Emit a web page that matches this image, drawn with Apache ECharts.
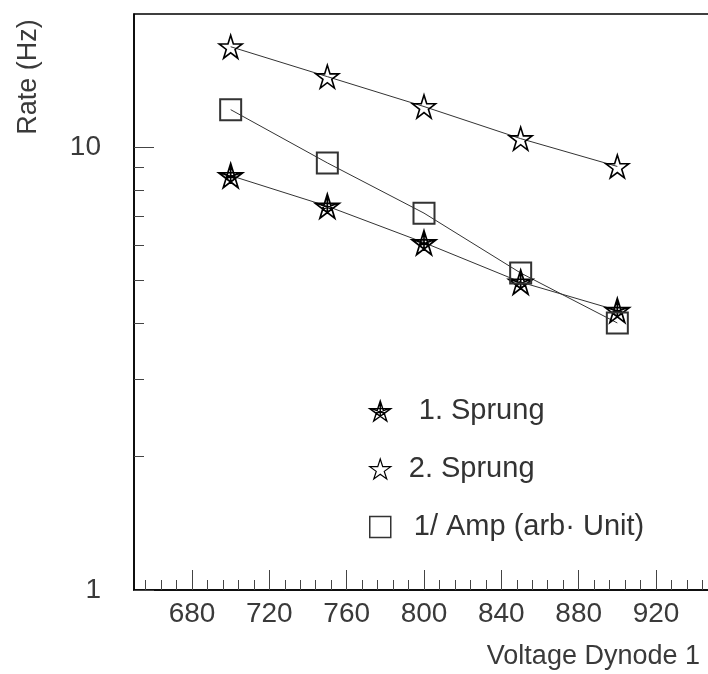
<!DOCTYPE html>
<html><head><meta charset="utf-8">
<script src="https://cdn.jsdelivr.net/npm/echarts@6/dist/echarts.min.js"></script>
<style>html,body{margin:0;padding:0;background:#fff}#c{width:708px;height:674px}</style>
</head><body><div id="c"></div>
<script>
const voltages = [700, 750, 800, 850, 900];
const sprung1 = [8.63, 7.36, 6.09, 4.96, 4.28];
const sprung2 = [16.87, 14.44, 12.36, 10.46, 9.05];
const ampInv = [12.16, 9.22, 7.10, 5.20, 4.01];
const seriesNames = ['1. Sprung', '2. Sprung', '1/ Amp (arb\u00b7 Unit)'];
const xMajorTicks = [680, 720, 760, 800, 840, 880, 920];
const xMinorTicks = [656, 664, 672, 688, 696, 704, 712, 728, 736, 744, 752, 768, 776, 784, 792, 808, 816, 824, 832, 848, 856, 864, 872, 888, 896, 904, 912, 928, 936, 944];
const yMinorTicks = [2, 3, 4, 5, 6, 7, 8, 9];

const STAR_OPEN = 'path://M50 0 L61.23 34.55 L97.55 34.55 L68.17 55.9 L79.39 90.45 L50 69.1 L20.61 90.45 L31.83 55.9 L2.45 34.55 L38.77 34.55 Z';
const STAR_HATCH = 'path://M50 0 L61.23 34.55 L97.55 34.55 L68.17 55.9 L79.39 90.45 L50 69.1 L20.61 90.45 L31.83 55.9 L2.45 34.55 L38.77 34.55 Z M50 0 L79.39 90.45 L2.45 34.55 L97.55 34.55 L20.61 90.45 Z M61.23 34.55 L68.17 55.9 L50 69.1 L31.83 55.9 L38.77 34.55 Z M50 12 L50 69.1 M14 36 L68.17 55.9 M86 36 L31.83 55.9';

const FONT = 'Liberation Sans';
const labelColor = '#3a3a3a';
const chart = echarts.init(document.getElementById('c'), null, {renderer: 'canvas'});

function pairs(ys) { return voltages.map((v, i) => [v, ys[i]]); }
const symStyle = (bw) => ({color: 'rgba(0,0,0,0)', borderColor: '#000', borderWidth: bw});

chart.setOption({
  animation: false,
  backgroundColor: '#fff',
  grid: {left: 134, top: 14, right: -6, bottom: 84, show: true, borderColor: '#000', borderWidth: 1.5, containLabel: false, outerBoundsMode: 'none'},
  xAxis: [
    {type: 'value', min: 650, max: 950, position: 'bottom',
     axisLine: {lineStyle: {color: '#000', width: 1.5}},
     axisTick: {inside: true, length: 20, customValues: xMajorTicks, lineStyle: {color: '#444', width: 1}},
     axisLabel: {customValues: xMajorTicks, color: labelColor, fontFamily: FONT, fontSize: 28, margin: 10},
     splitLine: {show: false}},
    {type: 'value', min: 650, max: 950, position: 'bottom', gridIndex: 0,
     axisLine: {show: false},
     axisTick: {inside: true, length: 10, customValues: xMinorTicks, lineStyle: {color: '#444', width: 1}},
     axisLabel: {show: false}, splitLine: {show: false}}
  ],
  yAxis: [
    {type: 'log', logBase: 10, min: 1, max: 20, position: 'left',
     axisLine: {show: true, lineStyle: {color: '#000', width: 1.5}},
     axisTick: {show: true, inside: true, length: 20, lineStyle: {color: '#444', width: 1}},
     axisLabel: {color: labelColor, fontFamily: FONT, fontSize: 28, margin: 33, showMaxLabel: false,
       formatter: v => (Math.abs(v - 1) < 1e-6 || Math.abs(v - 10) < 1e-6) ? String(Math.round(v)) : ''},
     splitLine: {show: false}},
    {type: 'log', logBase: 10, min: 1, max: 20, position: 'left',
     axisLine: {show: false},
     axisTick: {show: true, inside: true, length: 10, customValues: yMinorTicks, lineStyle: {color: '#444', width: 1}},
     axisLabel: {show: false}, splitLine: {show: false}}
  ],
  legend: {
    orient: 'vertical', left: 364, top: 391, itemWidth: 21, itemHeight: 21, itemGap: 28,
    textStyle: {fontFamily: FONT, fontSize: 29, color: '#333', lineHeight: 30},
    data: [
      {name: seriesNames[0], icon: STAR_HATCH, itemStyle: symStyle(1.4), textStyle: {padding: [0, 0, 0, 23]}},
      {name: seriesNames[1], icon: STAR_OPEN, itemStyle: symStyle(1.2), textStyle: {padding: [0, 0, 0, 13]}},
      {name: seriesNames[2], icon: 'rect', itemStyle: {color: 'rgba(0,0,0,0)', borderColor: '#333', borderWidth: 1.5}, textStyle: {padding: [0, 0, 0, 18]}}
    ]
  },
  graphic: [
    {type: 'text', x: 29, y: 77, rotation: Math.PI / 2,
     style: {text: 'Rate (Hz)', fontFamily: FONT, fontSize: 27, fill: labelColor, align: 'center', verticalAlign: 'middle'}},
    {type: 'text', x: 700, y: 657,
     style: {text: 'Voltage Dynode 1', fontFamily: FONT, fontSize: 27, fill: labelColor, align: 'right', verticalAlign: 'middle'}}
  ],
  series: [
    {name: seriesNames[0], type: 'line', data: pairs(sprung1), symbol: STAR_HATCH, symbolSize: 24,
     itemStyle: symStyle(1.7), lineStyle: {color: '#333', width: 1}, z: 3},
    {name: seriesNames[1], type: 'line', data: pairs(sprung2), symbol: STAR_OPEN, symbolSize: 23,
     itemStyle: symStyle(1.6), lineStyle: {color: '#333', width: 1}, z: 3},
    {name: seriesNames[2], type: 'line', data: pairs(ampInv), symbol: 'rect', symbolSize: 21,
     itemStyle: {color: 'rgba(0,0,0,0)', borderColor: '#333', borderWidth: 2}, lineStyle: {color: '#333', width: 1}, z: 3}
  ]
});
</script></body></html>
